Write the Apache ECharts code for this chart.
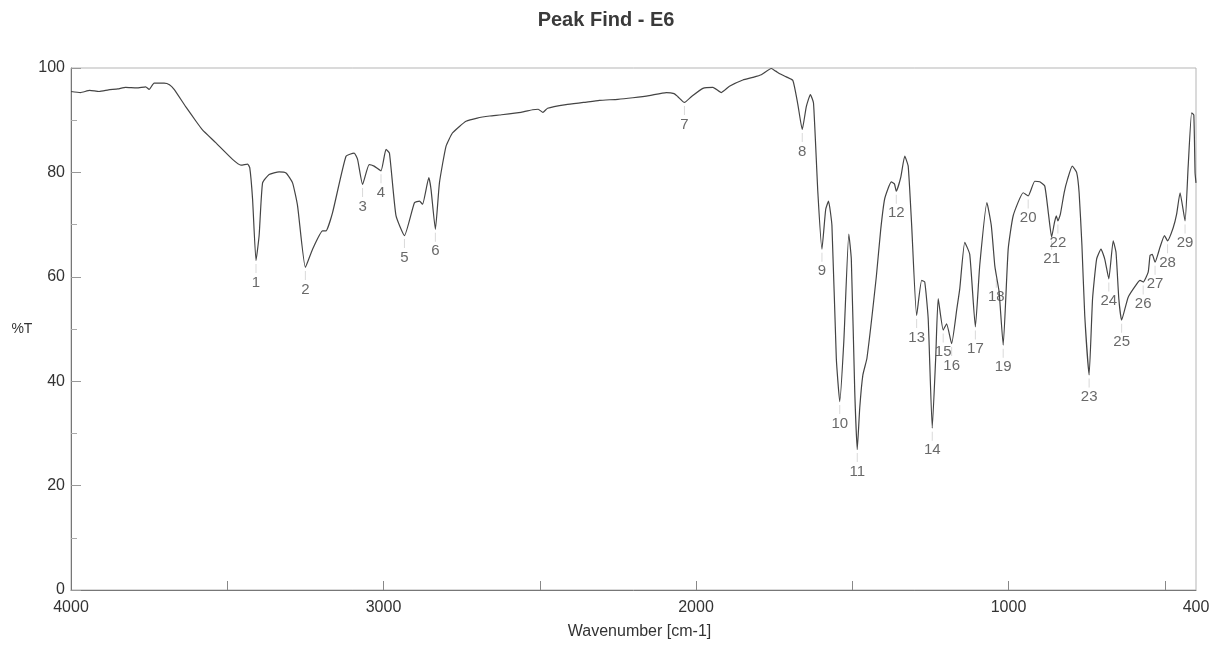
<!DOCTYPE html>
<html>
<head>
<meta charset="utf-8">
<script src="https://cdn.jsdelivr.net/npm/echarts@6/dist/echarts.min.js"></script>
<style>
html,body{margin:0;padding:0;background:#fff;}
#chart{width:1213px;height:645px;}
</style>
</head>
<body>
<div id="chart"></div>
<script>
// Spectrum: wavenumber (cm-1) and transmittance (%T)
const wavenumber = [4000,3970,3940,3910,3880,3850,3825,3790,3761,3750,3734,3702,3685,3670,3633,3600,3580,3537,3483,3456,3435,3428,3419,3408,3398,3387,3366,3334,3312,3291,3275,3250,3227,3195,3184,3163,3120,3094,3083,3067,3046,3030,3008,2992,2981,2960,2933,2901,2885,2875,2855,2848,2834,2821,2800,2780,2757,2736,2700,2660,2629,2560,2523,2505,2490,2475,2416,2360,2309,2250,2202,2150,2095,2070,2058,2037,2015,1978,1946,1919,1893,1850,1818,1791,1759,1745,1732,1711,1690,1674,1660,1647,1634,1624,1610,1597,1585,1576,1565,1551,1540,1527,1511,1503,1492,1484,1476,1466,1453,1423,1409,1396,1375,1365,1359,1345,1332,1321,1310,1294,1278,1268,1257,1244,1233,1225,1209,1198,1182,1165,1156,1140,1124,1106,1092,1069,1055,1044,1039,1030,1017,1001,985,953,937,916,900,884,872,862,853,847,842,834,822,811,796,782,774,765,756,742,731,718,704,692,679,665,656,647,638,617,590,579,569,553,547,540,531,515,501,491,473,462,451,435,425,414,407,403,400];
const transmittance = [95.5,95.3,95.7,95.5,95.8,96.0,96.3,96.2,96.4,95.9,97.1,97.1,96.8,95.9,92.6,89.8,88.2,85.7,82.5,81.4,81.6,80.9,74.9,63.1,67.9,78.0,79.6,80.1,79.9,78.0,73.6,61.8,65.3,68.8,68.8,72.3,83.1,83.7,82.5,77.7,81.5,81.2,80.3,84.4,83.7,71.7,67.9,74.2,74.5,73.9,79.0,76.8,69.1,78.0,85.0,87.5,88.8,89.8,90.4,90.8,91.0,91.5,92.0,92.1,91.5,92.3,93.0,93.4,93.8,94.0,94.3,94.7,95.3,95.1,94.5,93.4,94.5,96.1,96.3,95.3,96.5,97.7,98.2,98.7,99.9,99.4,98.9,98.3,97.6,93.0,88.2,92.6,94.9,93.3,76.1,65.3,72.9,74.5,69.8,44.4,36.1,47.6,68.2,63.4,38.0,26.9,34.9,41.2,44.4,60.0,69.0,75.0,78.2,77.8,76.4,79.0,83.1,81.2,70.0,52.6,59.3,59.0,52.0,31.0,44.4,55.8,49.8,51.0,47.2,54.0,57.7,66.6,64.3,50.4,62.2,74.2,69.8,62.2,60.3,57.1,46.9,65.3,71.7,76.1,75.5,78.3,78.2,77.4,72.0,67.6,70.4,71.7,70.7,72.0,76.1,78.7,81.2,80.0,76.1,66.0,52.6,41.2,55.8,63.4,65.3,63.4,59.6,66.9,64.7,55.8,51.7,56.1,58.6,59.3,59.0,60.9,64.1,64.3,62.8,65.7,67.9,66.9,69.4,72.0,76.1,70.7,81.2,91.4,91.0,80.0,78.0];

// Peak table
const peakNumbers = [1,2,3,4,5,6,7,8,9,10,11,12,13,14,15,16,17,18,19,20,21,22,23,24,25,26,27,28,29];
const peakWavenumber = [3408,3250,3067,3008,2933,2834,2037,1660,1597,1540,1484,1359,1294,1244,1209,1182,1106,1039,1017,937,862,842,742,679,638,569,531,491,435];
const peakTransmittance = [63.1,61.8,77.7,80.3,67.9,69.1,93.4,88.2,65.3,36.1,26.9,76.4,52.6,31.0,49.8,47.2,50.4,60.3,46.9,75.5,67.6,70.7,41.2,59.6,51.7,59.0,62.8,66.9,70.7];

// Axis tick values
const xMajorTicks = [4000,3000,2000,1000,400];
const xTickPositions = [3500,3000,2500,2000,1500,1000,500];

const chart = echarts.init(document.getElementById('chart'), null, {renderer:'canvas'});
const font = 'Liberation Sans, Arial, sans-serif';

const lineData = wavenumber.map((w,i)=>[w, transmittance[i]]);
const peakData = peakWavenumber.map((w,i)=>({value:[w, peakTransmittance[i]], name:String(peakNumbers[i])}));

chart.setOption({
  animation:false,
  backgroundColor:'#ffffff',
  title:{
    text:'Peak Find - E6',
    left:601, top:5, textAlign:'center',
    textStyle:{fontFamily:font, fontSize:20, fontWeight:'bold', color:'#3a3a3a'}
  },
  grid:{left:71, right:17, top:68, bottom:52, show:true, borderColor:'#b5b5b5', borderWidth:1},
  xAxis:[{
    type:'value', min:400, max:4000, inverse:true,
    name:'Wavenumber [cm-1]', nameLocation:'middle', nameGap:34,
    nameTextStyle:{fontFamily:font, fontSize:16, color:'#333', padding:[0,0,0,12]},
    axisLine:{show:true, lineStyle:{color:'#777', width:1}},
    axisTick:{show:true, inside:true, length:9, customValues:xTickPositions, lineStyle:{color:'#888'}},
    axisLabel:{show:true, customValues:xMajorTicks, formatter:function(v){return String(v);}, fontFamily:font, fontSize:16, color:'#333', margin:10},
    splitLine:{show:false}
  }],
  yAxis:{
    type:'value', min:0, max:100, interval:20,
    name:'%T', nameLocation:'middle', nameRotate:0, nameGap:38,
    nameTextStyle:{fontFamily:font, fontSize:14, color:'#333'},
    axisLine:{show:true, lineStyle:{color:'#777', width:1}},
    axisTick:{show:true, inside:true, length:10, lineStyle:{color:'#999'}},
    minorTick:{show:true, splitNumber:2, length:6, lineStyle:{color:'#aaa'}},
    axisLabel:{fontFamily:font, fontSize:16, color:'#333', margin:6},
    splitLine:{show:false}
  },
  series:[
    {
      type:'line', data:lineData, showSymbol:false, symbol:'none', smooth:0.15,
      lineStyle:{color:'#444', width:1.2}, z:3
    },
    {
      type:'scatter', data:peakData, symbol:'rect', symbolSize:[1,9], symbolOffset:[0,8],
      itemStyle:{color:'#cfcfcf'}, z:2,
      label:{show:true, position:'inside', offset:[0,14], formatter:'{b}',
        fontFamily:font, fontSize:15, color:'#444'}
    }
  ]
});
</script>
</body>
</html>
